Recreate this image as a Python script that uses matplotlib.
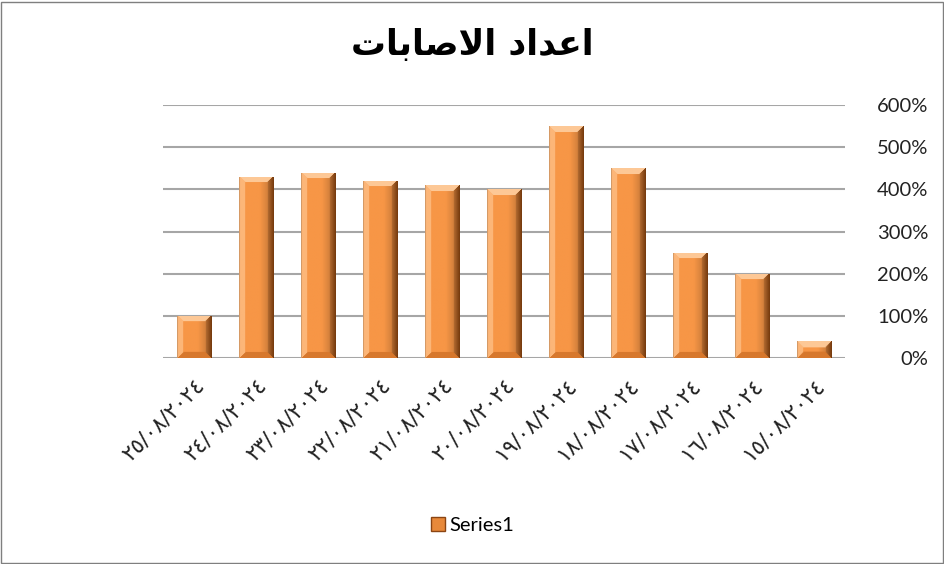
import numpy as np
import matplotlib
matplotlib.use("Agg")
import matplotlib.pyplot as plt
from matplotlib.patches import Rectangle, Patch
from matplotlib.ticker import FuncFormatter

# data (left to right as in the chart)
dates = ["٢٥/٠٨/٢٠٢٤", "٢٤/٠٨/٢٠٢٤", "٢٣/٠٨/٢٠٢٤", "٢٢/٠٨/٢٠٢٤", "٢١/٠٨/٢٠٢٤",
         "٢٠/٠٨/٢٠٢٤", "١٩/٠٨/٢٠٢٤", "١٨/٠٨/٢٠٢٤", "١٧/٠٨/٢٠٢٤", "١٦/٠٨/٢٠٢٤",
         "١٥/٠٨/٢٠٢٤"]
values = [1.0, 4.3, 4.4, 4.2, 4.1, 4.0, 5.5, 4.5, 2.5, 2.0, 0.4]
series_name = "Series1"
# "اعداد الاصابات" written in shaped presentation forms, visual order
title = "\ufe95\ufe8e\ufe91\ufe8e\ufebb\ufefb\ufe8d \ufea9\ufe8d\ufeaa\ufecb\ufe8d"

plt.rcParams['font.family'] = ['Lato', 'DejaVu Sans']

fig = plt.figure(figsize=(9.45, 5.64), dpi=100)
ax = fig.add_axes([0.1725, 0.365, 0.7217, 0.4486])

x = np.arange(len(values))
bw = 0.56
bars = ax.bar(x, values, width=bw, color='#F79646', zorder=3)

# bevelled fill for each bar, built in pixel units
px_per_unit_y = 253 / 6.0
px_per_unit_x = 62.0


def bevel_image(wpx, hpx, b=6):
    img = np.zeros((hpx, wpx, 3))
    base = np.array([247, 150, 70]) / 255
    left = np.array([252, 182, 120]) / 255
    right = np.array([120, 60, 15]) / 255
    top = np.array([253, 200, 150]) / 255
    bottom = np.array([215, 120, 45]) / 255
    for j in range(hpx):
        for i in range(wpx):
            dl, dr = i, wpx - 1 - i
            dt, db = j, hpx - 1 - j
            m = min(dl, dr, dt, db)
            if m >= b:
                t = i / (wpx - 1)
                c = base * (1 - 0.25 * max(0, t - 0.6) / 0.4)
            elif m == dr:
                c = right * (1 - dr / b) + base * 0.75 * (dr / b)
            elif m == dl:
                c = left * 0.85 if dl == 0 else left
            elif m == dt:
                c = top
            else:
                c = bottom
            img[j, i] = c
    return img


for b_, v in zip(bars, values):
    wpx = int(bw * px_per_unit_x)
    hpx = max(int(v * px_per_unit_y), 4)
    img = bevel_image(wpx, hpx, b=min(6, hpx // 2 - 1) if hpx < 14 else 6)
    im = ax.imshow(img, extent=[b_.get_x(), b_.get_x() + b_.get_width(), 0, v],
                   aspect='auto', origin='upper', zorder=4, interpolation='bilinear')
    im.set_clip_path(b_)

ax.set_xlim(-0.5, len(values) - 0.5)
ax.set_ylim(0, 6)
ax.set_yticks(np.arange(0, 7, 1))
ax.yaxis.set_major_formatter(FuncFormatter(lambda v, p: f"{int(round(v * 100))}%"))
ax.yaxis.tick_right()
ax.tick_params(axis='y', length=0, pad=60, labelsize=14.5, labelcolor='#222222')
for lbl in ax.get_yticklabels():
    lbl.set_horizontalalignment('right')
ax.grid(axis='y', color='#A6A6A6', linewidth=1.5, zorder=0)
ax.set_axisbelow(True)
for s in ax.spines.values():
    s.set_visible(False)

ax.set_xticks(x)
ax.set_xticklabels(dates, rotation=45, ha='right', rotation_mode='anchor',
                   fontsize=15.5, family=['DejaVu Sans'], color='#222222')
ax.tick_params(axis='x', length=0, pad=12)

fig.text(0.5, 0.92, title, ha='center', va='center', fontsize=25,
         fontweight='bold', family=['DejaVu Sans'])

handle = Patch(facecolor='#E8893A', edgecolor='#8B4513', linewidth=1)
fig.legend([handle], [series_name], loc='center', bbox_to_anchor=(0.5, 0.069),
           frameon=False, fontsize=14.5, handlelength=0.7, handleheight=0.7,
           handletextpad=0.2)

fig.patches.append(Rectangle((0.001, 0.002), 0.997, 0.995, transform=fig.transFigure,
                             fill=False, edgecolor='#7F7F7F', linewidth=1))

fig.savefig("out.png", dpi=100)
